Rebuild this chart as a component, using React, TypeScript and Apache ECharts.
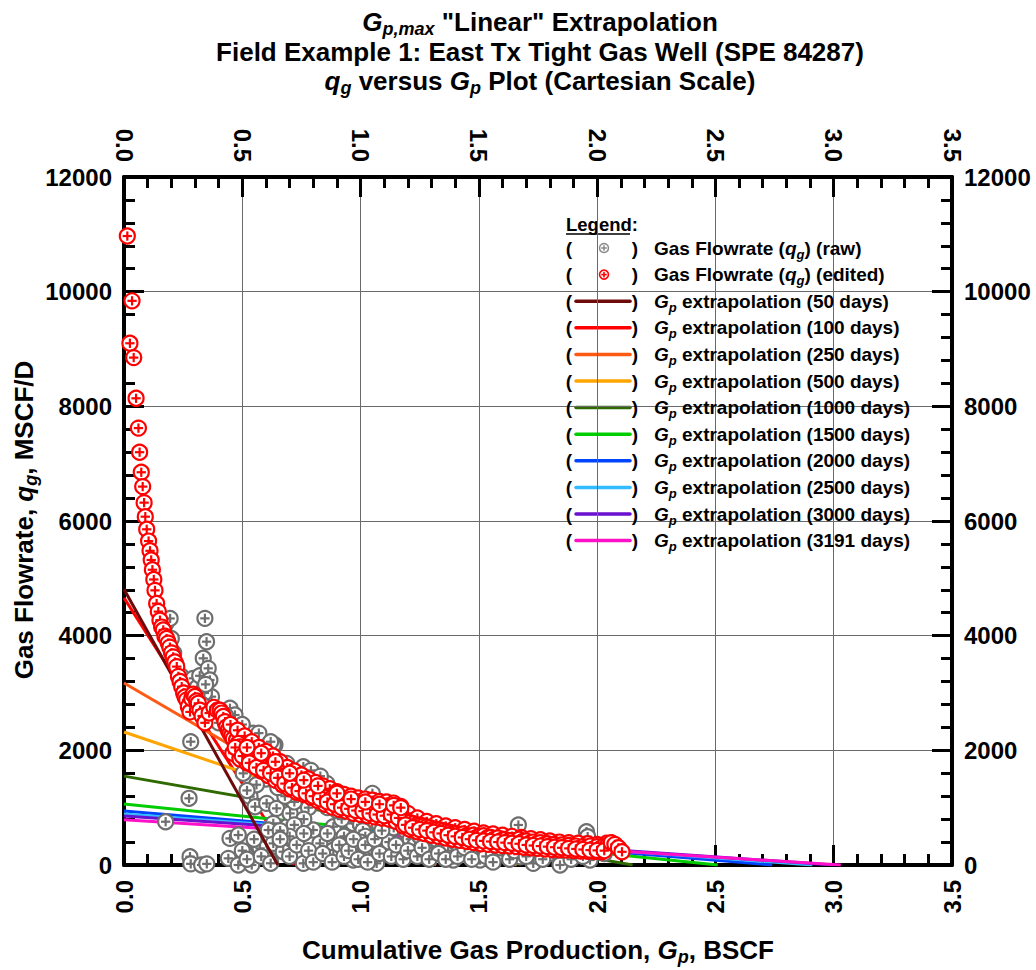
import React, { useEffect, useRef } from "react";
import * as echarts from "echarts";

const FONT = "'Liberation Sans', Arial, Helvetica, sans-serif";

// ---- data ----
const xTickLabels = ["0.0", "0.5", "1.0", "1.5", "2.0", "2.5", "3.0", "3.5"];
const yTickLabels = ["0", "2000", "4000", "6000", "8000", "10000", "12000"];

const extrapDays = ["50", "100", "250", "500", "1000", "1500", "2000", "2500", "3000", "3191"];
const extrapQ0 = [4810, 4660, 3175, 2320, 1550, 1065, 940, 890, 855, 790];
const extrapGpMax = [0.65, 0.72, 1.32, 1.66, 2.15, 2.51, 2.74, 2.91, 3.0, 3.03];
const extrapColors = ["#6E0A0A", "#FF0000", "#FF5A14", "#FFA500", "#2F6A00", "#00CC00", "#0044FF", "#33BBFF", "#6A10D0", "#FF10C8"];

const gpEdited = [
  0.014, 0.025, 0.034, 0.041, 0.051, 0.061, 0.066, 0.073, 0.079, 0.085, 0.090, 0.096, 0.104, 0.110, 0.115,
  0.120, 0.126, 0.131, 0.138, 0.145, 0.152, 0.159, 0.166, 0.173, 0.180, 0.187, 0.194, 0.201, 0.208, 0.215,
  0.223, 0.230, 0.237, 0.244, 0.252, 0.258, 0.265, 0.272, 0.279, 0.286, 0.293, 0.300, 0.307, 0.314, 0.321,
  0.330, 0.342, 0.360, 0.380, 0.395, 0.406, 0.413, 0.420, 0.427, 0.434, 0.441, 0.448, 0.455, 0.462, 0.476,
  0.450, 0.480, 0.510, 0.540, 0.570, 0.600, 0.630, 0.660, 0.690, 0.720, 0.750, 0.780, 0.810, 0.840, 0.870,
  0.900, 0.930, 0.960, 0.990, 1.020, 1.050, 1.080, 1.110, 1.140, 1.170, 1.200, 1.240, 1.280, 1.320, 1.360,
  1.400, 1.440, 1.480, 1.520, 1.560, 1.600, 1.640, 1.680, 1.720, 1.760, 1.800, 1.840, 1.880, 1.920, 1.960,
  2.000, 2.040,
  0.460, 0.490, 0.520, 0.550, 0.580, 0.610, 0.640, 0.670, 0.700, 0.730, 0.760, 0.790, 0.820, 0.850, 0.880,
  0.910, 0.940, 0.970, 1.000, 1.030, 1.060, 1.090, 1.120, 1.150, 1.180, 1.210, 1.240, 1.270, 1.300, 1.330,
  1.360, 1.390, 1.420, 1.450, 1.480, 1.510, 1.540, 1.570, 1.600, 1.630, 1.660, 1.690, 1.720, 1.750, 1.780,
  1.810, 1.840, 1.870, 1.900, 1.930, 1.960, 1.990, 2.020,
  0.483, 0.490, 0.497, 0.505, 0.512, 0.519, 0.526, 0.533, 0.547, 0.561, 0.575, 0.589, 0.596, 0.603, 0.617,
  0.631, 0.645, 0.659, 0.673, 0.688, 0.702, 0.716, 0.730, 0.744, 0.758, 0.772, 0.786, 0.800, 0.814, 0.828,
  0.842, 0.856, 0.870, 0.885, 0.900, 0.915, 0.930, 0.941, 0.955, 0.970, 0.985, 0.997, 1.010, 1.025, 1.040,
  1.054, 1.068, 1.082, 1.096, 1.110, 1.124, 1.138, 1.152, 1.166, 1.180, 1.195, 1.209, 1.223, 1.238, 1.252,
  1.266, 1.279, 1.293, 1.308, 1.322, 1.336, 1.350, 1.364, 1.378, 1.392, 1.406, 1.420, 1.434, 1.448, 1.462,
  1.476, 1.490, 1.505, 1.520, 1.535, 1.550, 1.565, 1.580, 1.595, 1.610, 1.625, 1.640, 1.655, 1.670, 1.685,
  1.700, 1.715, 1.730, 1.745, 1.760, 1.775, 1.790, 1.805, 1.820, 1.835, 1.850, 1.865, 1.880, 1.895, 1.910,
  1.925, 1.940, 1.955, 1.970, 1.985, 2.000, 2.015, 2.030, 2.045,
  0.470, 0.500, 0.530, 0.560, 0.590, 0.620, 0.650, 0.680, 0.710, 0.740, 0.770, 0.800, 0.830, 0.860, 0.890,
  0.920, 0.950, 0.980, 1.010, 1.040, 1.070, 1.100, 1.130, 1.160, 1.190, 1.220, 1.250, 1.280, 1.310, 1.340,
  1.370, 1.400, 1.430, 1.460, 1.490, 1.520, 1.550, 1.580, 1.610, 1.640, 1.670, 1.700, 1.730, 1.760, 1.790,
  1.820, 1.850, 1.880, 1.910, 1.940, 1.970, 2.000, 2.030,
  0.520, 0.580, 0.640, 0.700, 0.760, 0.820, 0.900, 0.960, 1.020, 1.080, 1.140, 1.170,
  2.060, 2.075, 2.090, 2.105,
];
const qEdited = [
  10970, 9100, 9840, 8850, 8140, 7620, 7200, 6850, 6600, 6320, 6075, 5855, 5650, 5480, 5320,
  5150, 4980, 4790, 4560, 4420, 4270, 4150, 4100, 3990, 3950, 3870, 3800, 3700, 3630, 3540,
  3460, 3290, 3200, 3110, 3000, 2930, 2880, 2760, 2670, 2900, 2980, 2940, 2860, 2820, 2700,
  2600, 2480, 2650, 2750, 2700, 2700, 2650, 2590, 2500, 2410, 2350, 2300, 2250, 2200, 2180,
  2450, 2350, 2250, 2150, 2050, 1980, 1900, 1800, 1700, 1640, 1570, 1500, 1440, 1380, 1330,
  1280, 1230, 1200, 1170, 1150, 1130, 1110, 1100, 1080, 1020, 900, 820, 760, 720, 680,
  650, 620, 590, 560, 540, 520, 500, 480, 460, 440, 420, 400, 390, 380, 370,
  360, 380,
  1950, 1850, 1780, 1720, 1640, 1560, 1480, 1400, 1330, 1270, 1230, 1180, 1120, 1060, 1010,
  970, 940, 900, 880, 860, 840, 820, 800, 760, 680, 620, 580, 550, 520, 500,
  470, 450, 430, 410, 390, 370, 360, 350, 340, 330, 320, 310, 300, 290, 280,
  270, 265, 260, 250, 245, 240, 235, 230,
  2120, 2060, 2010, 1990, 1950, 1940, 1900, 1870, 1830, 1800, 1860, 1890, 1800, 1720, 1740,
  1770, 1680, 1600, 1550, 1490, 1450, 1420, 1390, 1420, 1360, 1330, 1300, 1300, 1270, 1250,
  1200, 1180, 1150, 1130, 1100, 1090, 1080, 1070, 1060, 1040, 1060, 1075, 1030, 1010, 1000,
  1017, 980, 960, 950, 960, 970, 990, 1010, 900, 800, 760, 740, 720, 700, 690,
  680, 665, 650, 630, 620, 610, 600, 585, 570, 555, 545, 530, 540, 510, 500,
  520, 480, 500, 510, 470, 480, 450, 470, 430, 445, 420, 430, 400, 450, 410,
  420, 380, 400, 370, 390, 350, 370, 340, 360, 330, 350, 310, 340, 300, 330,
  290, 320, 300, 330, 280, 320, 290, 330, 340,
  2050, 1900, 1780, 1700, 1650, 1600, 1520, 1420, 1350, 1290, 1250, 1200, 1150, 1100, 1060,
  1000, 980, 950, 940, 900, 880, 860, 880, 820, 700, 650, 620, 600, 570, 550,
  520, 500, 480, 450, 430, 420, 410, 400, 390, 380, 370, 350, 340, 330, 320,
  310, 300, 290, 280, 270, 260, 255, 250,
  2050, 1950, 1800, 1600, 1480, 1380, 1250, 1150, 1100, 1060, 1040, 1000,
  390, 360, 300, 230,
];

const gpRaw = [
  0.160, 0.175, 0.195, 0.200, 0.210, 0.220, 0.240, 0.260, 0.280, 0.293, 0.300, 0.310, 0.320, 0.335, 0.342,
  0.349, 0.356, 0.363, 0.370, 0.340, 0.345, 0.330, 0.282, 0.275, 0.176, 0.279, 0.282, 0.328, 0.350, 0.441,
  0.448, 0.483, 0.483, 0.540, 0.568, 0.575, 0.617, 0.631, 0.673, 0.631, 0.610, 0.688, 0.744, 0.758, 0.800,
  0.828, 0.885, 0.885, 0.955, 0.969, 0.969, 1.011, 1.068, 1.166, 1.279, 1.392, 0.448, 0.469, 0.490, 0.547,
  0.638, 0.504, 0.490, 0.533, 0.554, 0.603, 0.645, 0.702, 0.772, 0.857, 0.758, 0.688, 0.631, 0.955, 1.068,
  1.110, 0.420, 0.400, 0.380, 0.460, 0.520, 0.560, 0.600, 0.660, 0.700, 0.740, 0.800, 0.830, 0.870, 0.910,
  0.950, 1.000, 1.030, 1.050, 0.980, 0.990, 1.000, 1.010, 1.020, 1.040, 1.050, 1.000, 0.990, 0.960, 0.930,
  0.920, 0.900, 0.860, 0.820, 0.780, 0.760, 0.720, 0.700, 0.660, 0.720, 0.680, 0.650, 0.600, 0.560, 0.520,
  1.080, 1.100, 1.120, 1.140, 1.160, 1.190, 1.210, 1.230, 1.250, 1.280, 1.300, 1.320, 1.350, 1.370, 1.400,
  1.420, 1.450, 1.480, 1.505, 1.520, 1.547, 1.570, 1.603, 1.620, 1.667, 1.674, 1.690, 1.730, 1.750, 1.780,
  1.800, 1.843, 1.860, 1.880, 1.900, 1.930, 1.955, 1.960, 1.970, 1.985, 2.000, 2.030,
  0.500, 0.520, 0.550, 0.580, 0.620, 0.660, 0.700, 0.730, 0.760, 0.780, 0.800, 0.840, 0.860, 0.880, 0.910,
  0.930, 0.950, 0.970, 0.990, 1.020, 1.030, 1.060, 1.080, 1.090, 1.130, 1.150, 1.180, 1.200, 1.240, 1.260,
  1.290, 1.330, 1.360, 1.410, 1.440, 1.470, 1.530, 1.560, 1.590, 1.630, 1.650, 1.700, 1.720, 1.770, 1.820,
  1.890, 1.920, 1.940,
  0.430, 0.500, 0.570, 0.620, 0.790, 0.830, 1.050,
];
const qRaw = [
  4250, 4200, 4300, 3950, 3700, 3500, 3300, 3150, 3050, 3256, 3000, 3100, 3300, 3605, 4302,
  3895, 3430, 3227, 2936, 3000, 3150, 2800, 2151, 1163, 755, 145, 20, 0, 20, 116,
  464, 523, 0, 0, 319, 290, 87, 377, 232, 726, 610, 668, 726, 29, 610,
  377, 261, 668, 552, 726, 87, 436, 29, 261, 203, 87, 2733, 2616, 2413, 2297,
  2093, 1599, 1861, 1192, 1017, 1075, 988, 900, 1599, 1424, 1715, 1773, 2093, 1192, 1075,
  900, 2550, 2480, 2700, 2200, 2000, 1950, 1900, 1700, 1600, 1550, 1450, 1400, 1300, 1250,
  1150, 1000, 950, 900, 900, 800, 700, 600, 500, 300, 200, 400, 250, 350, 500,
  800, 950, 1000, 1100, 1000, 800, 700, 500, 600, 1100, 1200, 1350, 1500, 1400, 1300,
  700, 550, 400, 650, 800, 600, 450, 350, 500, 400, 300, 450, 350, 250, 400,
  300, 200, 350, 87, 300, 261, 380, 203, 350, 698, 145, 300, 29, 250, 320,
  200, 0, 250, 300, 200, 280, 581, 494, 87, 300, 250, 200,
  250, 100, 450, 150, 30, 450, 150, 350, 550, 250, 50, 200, 550, 50, 350,
  150, 250, 450, 100, 350, 50, 450, 200, 600, 150, 350, 100, 250, 150, 300,
  100, 200, 100, 150, 300, 100, 150, 50, 300, 100, 250, 150, 300, 100, 250,
  100, 350, 150,
  2600, 2450, 2300, 2150, 1650, 1550, 1250,
];

// ---- helpers ----
const richFor = (fs: number) => ({
  b: { fontSize: fs, fontWeight: "bold", fontFamily: FONT, lineHeight: fs + 6, verticalAlign: "middle", fill: "#000" },
  gi: { fontSize: fs, fontWeight: "bold", fontStyle: "italic", fontFamily: FONT, lineHeight: fs + 6, verticalAlign: "middle", fill: "#000" },
  sub: {
    fontSize: Math.round(fs * 0.68),
    fontStyle: "italic",
    fontWeight: "bold",
    fontFamily: FONT,
    lineHeight: Math.round(fs * 0.45),
    verticalAlign: "bottom",
    fill: "#000",
  },
});

const richText = (text: string, x: number, y: number, fs: number, align = "center", rotation = 0, z = 50) => ({
  type: "text",
  x,
  y,
  rotation,
  z,
  style: {
    text,
    rich: richFor(fs),
    fontSize: fs,
    fontWeight: "bold",
    fontFamily: FONT,
    fill: "#000",
    align,
    verticalAlign: "middle",
    textAlign: align,
    textVerticalAlign: "middle",
  },
});

const plainText = (text: string, x: number, y: number, fs: number, align = "center") => ({
  type: "text",
  x,
  y,
  z: 50,
  style: {
    text,
    fontSize: fs,
    fontWeight: "bold",
    fontFamily: FONT,
    fill: "#000",
    align,
    verticalAlign: "middle",
    textAlign: align,
    textVerticalAlign: "middle",
  },
});

const markerShapes = (cx: number, cy: number, r: number, color: string, lw: number) => {
  const a = r * 0.62;
  return [
    { type: "circle", shape: { cx, cy, r }, style: { fill: "#fff", stroke: color, lineWidth: lw } },
    { type: "line", shape: { x1: cx - a, y1: cy, x2: cx + a, y2: cy }, style: { stroke: color, lineWidth: lw } },
    { type: "line", shape: { x1: cx, y1: cy - a, x2: cx, y2: cy + a }, style: { stroke: color, lineWidth: lw } },
  ];
};

const renderMarker = (color: string) => (params: any, api: any) => {
  const p = api.coord([api.value(0), api.value(1)]);
  return { type: "group", children: markerShapes(p[0], p[1], 7.5, color, 2.2) };
};

const GRAY = "#6E6E6E";
const RED = "#FF0000";

function buildLegend() {
  const children: any[] = [];
  children.push({ type: "rect", shape: { x: 562, y: 212, width: 350, height: 340 }, style: { fill: "#fff" } });
  children.push({
    type: "text",
    x: 566,
    y: 224,
    style: { text: "Legend:", fontSize: 18.5, fontWeight: "bold", fontFamily: FONT, fill: "#000", align: "left", verticalAlign: "middle", textAlign: "left", textVerticalAlign: "middle" },
  });
  children.push({ type: "line", shape: { x1: 566, y1: 234, x2: 630, y2: 234 }, style: { stroke: "#000", lineWidth: 1.5 } });
  const rowY = (i: number) => 248 + i * 26.6;
  const paren = (y: number) => {
    children.push(plainText("(", 569, y, 19));
    children.push(plainText(")", 635, y, 19));
  };
  paren(rowY(0));
  children.push(...markerShapes(604, rowY(0), 4.5, "#888", 1.5));
  children.push(richText("{b|Gas Flowrate (}{gi|q}{sub|g}{b|) (raw)}", 654, rowY(0), 19, "left"));
  paren(rowY(1));
  children.push(...markerShapes(604, rowY(1), 4.5, RED, 1.6));
  children.push(richText("{b|Gas Flowrate (}{gi|q}{sub|g}{b|) (edited)}", 654, rowY(1), 19, "left"));
  extrapDays.forEach((d, i) => {
    const y = rowY(i + 2);
    paren(y);
    children.push({ type: "line", shape: { x1: 576, y1: y, x2: 630, y2: y }, style: { stroke: extrapColors[i], lineWidth: 3.5, lineCap: "round" } });
    children.push(richText(`{gi|G}{sub|p}{b| extrapolation (${d} days)}`, 654, y, 19, "left"));
  });
  return { type: "group", z: 100, children };
}

const axisFont = { fontSize: 24, fontWeight: "bold" as const, fontFamily: FONT, color: "#000" };

function makeXAxis(position: "top" | "bottom", split: boolean) {
  return {
    type: "value",
    position,
    min: 0,
    max: 3.5,
    interval: 0.5,
    axisLine: { show: true, onZero: false, lineStyle: { color: "#000", width: 4 } },
    axisTick: { show: true, inside: true, length: 20, lineStyle: { color: "#000", width: 3 } },
    minorTick: { show: true, splitNumber: 5, length: 11, lineStyle: { color: "#000", width: 3 } },
    splitLine: { show: split, lineStyle: { color: "#6a6a6a", width: 1 } },
    minorSplitLine: { show: false },
    axisLabel: {
      ...axisFont,
      rotate: 90,
      margin: 15,
      formatter: (v: number) => xTickLabels[Math.round(v / 0.5)] ?? "",
    },
  };
}
function makeYAxis(position: "left" | "right", split: boolean) {
  return {
    type: "value",
    position,
    min: 0,
    max: 12000,
    interval: 2000,
    axisLine: { show: true, onZero: false, lineStyle: { color: "#000", width: 4 } },
    axisTick: { show: true, inside: true, length: 20, lineStyle: { color: "#000", width: 3 } },
    minorTick: { show: true, splitNumber: 5, length: 11, lineStyle: { color: "#000", width: 3 } },
    splitLine: { show: split, lineStyle: { color: "#6a6a6a", width: 1 } },
    axisLabel: {
      ...axisFont,
      margin: 12,
      formatter: (v: number) => yTickLabels[Math.round(v / 2000)] ?? "",
    },
  };
}

export default function App() {
  const ref = useRef<HTMLDivElement>(null);
  useEffect(() => {
    if (!ref.current) return;
    const chart = echarts.init(ref.current, null, { renderer: "svg" });
    const lineSeries = extrapDays.map((d, i) => ({
      type: "line",
      name: `Gp extrapolation (${d} days)`,
      data: [
        [0, extrapQ0[i]],
        [extrapGpMax[i], 0],
      ],
      xAxisIndex: 0,
      yAxisIndex: 0,
      symbol: "none",
      showSymbol: false,
      silent: true,
      z: i === 0 ? 3 : 1,
      lineStyle: { color: extrapColors[i], width: 3 },
    }));
    const option: any = {
      animation: false,
      backgroundColor: "#fff",
      grid: { left: 124, right: 84, top: 177, bottom: 105, containLabel: false },
      xAxis: [makeXAxis("bottom", true), makeXAxis("top", false)],
      yAxis: [makeYAxis("left", true), makeYAxis("right", false)],
      series: [
        ...lineSeries,
        {
          type: "custom",
          name: "Gas Flowrate (raw)",
          xAxisIndex: 0,
          yAxisIndex: 0,
          z: 2,
          clip: false,
          silent: true,
          renderItem: renderMarker(GRAY),
          data: gpRaw.map((g, i) => [g, qRaw[i]]),
        },
        {
          type: "custom",
          name: "Gas Flowrate (edited)",
          xAxisIndex: 0,
          yAxisIndex: 0,
          z: 4,
          clip: false,
          silent: true,
          renderItem: renderMarker(RED),
          data: gpEdited.map((g, i) => [g, qEdited[i]]),
        },
      ],
      graphic: [
        richText('{gi|G}{sub|p,max}{b| "Linear" Extrapolation}', 540, 22, 26),
        richText("{b|Field Example 1: East Tx Tight Gas Well (SPE 84287)}", 540, 52, 26),
        richText("{gi|q}{sub|g}{b| versus }{gi|G}{sub|p}{b| Plot (Cartesian Scale)}", 540, 81, 26),
        richText("{b|Cumulative Gas Production, }{gi|G}{sub|p}{b|, BSCF}", 538, 950, 26),
        richText("{b|Gas Flowrate, }{gi|q}{sub|g}{b|, MSCF/D}", 24, 520, 26, "center", Math.PI / 2),
        buildLegend(),
      ],
    };
    chart.setOption(option);
    return () => chart.dispose();
  }, []);
  return (
    <div
      ref={ref}
      style={{ position: "fixed", left: 0, top: 0, width: 1036, height: 970, background: "#fff" }}
    />
  );
}
